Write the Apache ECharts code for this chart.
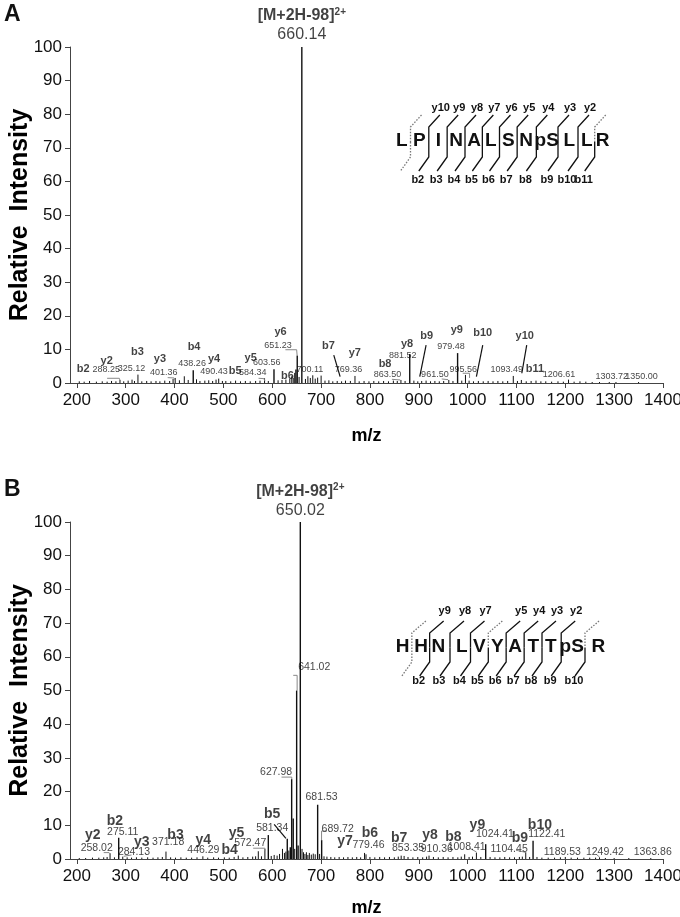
<!DOCTYPE html>
<html><head><meta charset="utf-8">
<script src="https://cdn.jsdelivr.net/npm/echarts@6/dist/echarts.min.js"></script>
<style>html,body{margin:0;padding:0;background:#fff}#c{width:680px;height:917px}</style>
</head><body><div id="c"></div>
<script>
// ---------------- DATA ----------------
const xTicks = [200,300,400,500,600,700,800,900,1000,1100,1200,1300,1400];
const yTicks = [0,10,20,30,40,50,60,70,80,90,100];

// Panel A spectrum peaks [m/z, relative intensity]
const peaksA = [[205,0.5],[215,0.4],[226,0.6],[240,0.4],[252,0.5],[262,0.4],[271,0.6],[280,0.5],[288.3,0.9],[296,0.5],[305,0.7],[313,1.0],[318,0.6],[325.1,2.5],[333,0.5],[343,0.6],[352,0.5],[362,0.6],[370,0.5],[380,0.7],[390,0.6],[397,1.2],[401.4,1.5],[410,0.8],[420,2.0],[428,0.9],[438.3,3.8],[445,1.1],[452,0.6],[462,0.7],[470,0.8],[478,0.6],[485,1.0],[490.4,1.3],[498,0.6],[505,0.6],[515,0.5],[525,0.7],[535,0.5],[545,0.6],[555,0.5],[566,0.6],[575,0.7],[584.3,1.4],[592,0.6],[603.6,4.1],[612,0.8],[620,0.9],[628,1.0],[636,1.3],[640,2.0],[643,1.5],[646,3.0],[648.5,4.0],[651.2,8.2],[655,1.8],[660.6,100],[668,1.2],[673,2.0],[678,1.5],[683,2.3],[688,1.3],[693,1.6],[700.1,2.2],[708,0.7],[716,0.8],[724,0.5],[733,0.6],[742,0.5],[750,0.7],[760,0.6],[769.4,2.1],[778,0.5],[788,0.6],[798,0.5],[808,0.6],[818,0.5],[828,0.6],[838,0.5],[848,0.7],[856,0.6],[863.5,0.9],[872,0.6],[881.5,8.6],[890,0.7],[898,0.5],[906,0.6],[915,0.7],[924,0.5],[933,0.6],[942,0.5],[951,0.6],[961.5,0.9],[970,0.6],[979.5,8.9],[988,0.7],[995.6,2.4],[1003,0.7],[1012,0.5],[1022,0.6],[1032,0.5],[1042,0.6],[1052,0.5],[1062,0.6],[1072,0.5],[1082,0.6],[1093.5,2.1],[1102,0.6],[1110,0.9],[1120,0.5],[1130,0.6],[1140,0.7],[1150,0.5],[1160,0.5],[1172,0.4],[1185,0.5],[1196,0.4],[1206.6,1.0],[1218,0.4],[1230,0.5],[1242,0.4],[1255,0.3],[1270,0.3],[1290,0.3],[1303.7,0.3],[1350,0.3]];

// Panel B spectrum peaks [m/z, relative intensity]
const peaksB = [[205,0.3],[218,0.3],[232,0.4],[245,0.4],[255,0.5],[262,0.6],[268,1.7],[277,0.5],[285.7,6.3],[294,0.7],[303,0.5],[312,0.4],[322,0.5],[333,0.4],[345,0.5],[356,0.4],[366,0.5],[375,0.6],[382.5,2.2],[392,0.5],[402,0.4],[413,0.5],[424,0.4],[435,0.4],[446,0.5],[458,0.8],[468,0.4],[480,0.5],[490,0.4],[502,0.5],[512,0.4],[522,0.6],[530.5,1.0],[540,0.5],[550,0.6],[560,0.7],[566,0.8],[571.5,2.3],[578,0.8],[585,3.0],[592,7.1],[598,0.9],[604,1.2],[610,1.0],[615,1.5],[621,3.0],[625,1.8],[628,2.2],[630.8,6.0],[634,2.5],[637,3.5],[639.8,23.7],[643,12],[646,3],[650,50],[653,4],[657.5,100],[661,3],[664,2],[667,1.5],[670,2],[673,1.2],[676,1.8],[680,1.3],[684,1.6],[688,1.4],[693,16.1],[697,1.5],[701.2,5.6],[706,0.8],[712,0.7],[720,0.6],[728,0.5],[737,0.6],[746,0.5],[755,0.6],[764,0.5],[773,0.6],[781,0.5],[789,1.8],[792,1.4],[800,0.6],[810,0.5],[820,0.6],[830,0.5],[840,0.6],[850,0.5],[858,0.7],[864,1.0],[870,0.9],[878,0.6],[888,0.5],[898,0.6],[908,0.5],[916,0.7],[921,1.0],[930,0.6],[940,0.5],[950,0.6],[960,0.5],[970,0.6],[980,0.5],[987,0.7],[994,1.4],[1003,0.6],[1010,0.7],[1018,1.9],[1027,0.6],[1037,4.4],[1046,0.6],[1056,0.5],[1066,0.5],[1076,0.6],[1086,0.5],[1096,0.5],[1106,0.6],[1112,0.7],[1119,2.0],[1127,0.6],[1134,5.4],[1142,0.6],[1152,0.4],[1165,0.4],[1178,0.4],[1190,0.5],[1200,0.6],[1212,0.4],[1225,0.4],[1238,0.4],[1250,0.4],[1262,0.4],[1270,0.5],[1282,0.3],[1300,0.3],[1330,0.3],[1375,0.3]];

// Peak annotations: [text, kind]  (kind: 'ion' bold fragment name, 'mz' value)
const annotA = [['b2','ion'],['y2','ion'],['288.25','mz'],['b3','ion'],['325.12','mz'],['y3','ion'],['401.36','mz'],['b4','ion'],['438.26','mz'],['y4','ion'],['490.43','mz'],['b5','ion'],['584.34','mz'],['y5','ion'],['603.56','mz'],['b6','ion'],['y6','ion'],['651.23','mz'],['700.11','mz'],['b7','ion'],['769.36','mz'],['y7','ion'],['y8','ion'],['881.52','mz'],['b8','ion'],['863.50','mz'],['b9','ion'],['961.50','mz'],['y9','ion'],['979.48','mz'],['b10','ion'],['995.56','mz'],['1093.49','mz'],['y10','ion'],['b11','ion'],['1206.61','mz'],['1303.72','mz'],['1350.00','mz']];
const annotB = [['y2','ion'],['258.02','mz'],['b2','ion'],['275.11','mz'],['y3','ion'],['284.13','mz'],['371.18','mz'],['b3','ion'],['y4','ion'],['446.29','mz'],['b4','ion'],['y5','ion'],['572.47','mz'],['b5','ion'],['581.34','mz'],['627.98','mz'],['641.02','mz'],['681.53','mz'],['689.72','mz'],['y7','ion'],['b6','ion'],['779.46','mz'],['b7','ion'],['853.35','mz'],['y8','ion'],['910.36','mz'],['b8','ion'],['1008.41','mz'],['y9','ion'],['1024.41','mz'],['b9','ion'],['1104.45','mz'],['b10','ion'],['1122.41','mz'],['1189.53','mz'],['1249.42','mz'],['1363.86','mz']];
const precursorA = '660.14', precursorB = '650.02', precursorName = '[M+2H-98]';

// Peptide sequences and observed fragments
const seqA = ['L','P','I','N','A','L','S','N','pS','L','L','R'];
const seqB = ['H','H','N','L','V','Y','A','T','T','pS','R'];
// for each cleavage k (1..n-1): [b observed, y observed]
const obsA = [[0,0],[1,1],[1,1],[1,1],[1,1],[1,1],[1,1],[1,1],[1,1],[1,1],[1,0]];
const obsB = [[0,0],[1,1],[1,1],[1,1],[1,0],[1,1],[1,1],[1,1],[1,1],[1,0]];

// ---------------- LAYOUT ----------------
const annotPosA = [[213,4.1],[261,6.6],[260,3.9],[324,9.3],[312,4.2],[370,7.1],[378,3.2],[440,10.8],[436,5.9],[481,7.05],[481,3.4],[524,3.7],[560,3.1],[556,7.35],[589,6.0],[631,2.1],[617,15.3],[612,11.1],[677,4.1],[715,11.0],[756,4.1],[769,8.8],[876,11.6],[867,8.3],[831,5.65],[836,2.4],[916,14.0],[933,2.4],[978,15.8],[966,11.0],[1031,15.0],[991,4.1],[1080,4.1],[1117,14.0],[1138,4.1],[1187,2.6],[1295,1.9],[1356,1.9]];
const annotPosB = [[232.5,7.1],[240.7,3.35],[278,11.1],[294,7.9],[333,5.1],[317,2.0],[387,5.0],[402,7.1],[459,5.6],[459,2.5],[513,2.5],[527,7.8],[555,4.75],[600,13.3],[600,9.3],[608,25.9],[686,57],[701,18.5],[734,8.75],[749,5.3],[800,7.6],[797,4.0],[860,6.3],[878,3.2],[923,7.1],[937,2.9],[971,6.6],[998,3.65],[1020,10.1],[1056,7.3],[1107,6.1],[1085,2.9],[1148,10.1],[1162,7.3],[1194,2.0],[1281,2.0],[1379,2.0]];
const leadA = [
  [[[262,1.4],[287,1.4],[289,0.5]],'g'],
  [[[386,1.6],[399,1.5],[401,0.8]],'g'],
  [[[572,1.4],[583,1.3],[585,0.6]],'g'],
  [[[627,9.9],[650,9.9],[651,8.2]],'g'],
  [[[845,1.1],[862,0.9]],'g'],
  [[[947,1.2],[960,1.0]],'g'],
  [[[990,2.9],[1004,2.9],[1004,1.5]],'g'],
  [[[726,8.3],[739,1.9]],'k'],
  [[[915,11.3],[902,1.9]],'k'],
  [[[1031,11.3],[1018,1.9]],'k'],
  [[[1121,11.3],[1111,2.9]],'k']
];
const leadB = [
  [[[255,1.9],[266,1.9],[268,1.5]],'g'],
  [[[296,0.8],[312,1.2]],'g'],
  [[[561,3.2],[585,3.2],[585,2.4]],'g'],
  [[[604,10.3],[628,6.1]],'k'],
  [[[619,24.3],[640,24.3],[640,23.7]],'g'],
  [[[643,54.5],[651,54.5],[651,50]],'g'],
  [[[712,8.3],[701,8.3],[701,5.6]],'g'],
  [[[1004,3.2],[1018,2.1]],'g'],
  [[[1099,2.6],[1118,2.0]],'g'],
  [[[1264,1.3],[1270,0.6]],'g']
];

const FONT = '"Liberation Sans", Arial, sans-serif';
const chart = echarts.init(document.getElementById('c'), null, {renderer:'canvas'});

function xAxisCfg(gi, gap){
  return {type:'value', gridIndex:gi, min:186, max:1400,
    name:'m/z', nameLocation:'middle', nameGap:gap, nameMoveOverlap:false,
    nameTextStyle:{fontFamily:FONT, fontSize:18, fontWeight:'bold', color:'#000'},
    axisLine:{lineStyle:{color:'#444', width:1}},
    axisTick:{customValues:xTicks, length:5, lineStyle:{color:'#444'}},
    axisLabel:{customValues:xTicks, margin:9, fontFamily:FONT, fontSize:17, color:'#111',
      formatter:function(v){return String(v);}},
    splitLine:{show:false}};
}
function yAxisCfg(gi){
  return {type:'value', gridIndex:gi, min:0, max:100, interval:10,
    name:'Relative  Intensity', nameLocation:'middle', nameGap:37, nameRotate:90, nameMoveOverlap:false,
    nameTextStyle:{fontFamily:FONT, fontSize:25, fontWeight:'bold', color:'#000'},
    axisLine:{show:true, lineStyle:{color:'#444', width:1}},
    axisTick:{show:true, length:5, lineStyle:{color:'#444'}},
    axisLabel:{margin:8, fontFamily:FONT, fontSize:17, color:'#111'},
    splitLine:{show:false}};
}
function stickSeries(data, gi){
  return {type:'custom', xAxisIndex:gi, yAxisIndex:gi, data:data, silent:true, animation:false,
    encode:{x:0, y:1},
    renderItem:function(params, api){
      const x = api.value(0), y = api.value(1);
      const p0 = api.coord([x,0]), p1 = api.coord([x,y]);
      return {type:'line', shape:{x1:p0[0], y1:p0[1], x2:p1[0], y2:p1[1]},
        style:{stroke:'#111', lineWidth: y > 3 ? 1.4 : 1}};
    }};
}
function leaderSeries(list, gi){
  return {type:'custom', xAxisIndex:gi, yAxisIndex:gi, silent:true, animation:false, clip:false,
    data:list.map((l,i)=>[l[0][0][0], l[0][0][1], i]),
    renderItem:function(params, api){
      const l = list[params.dataIndex];
      const pts = l[0].map(p=>api.coord(p));
      return {type:'polyline', shape:{points:pts},
        style:{stroke: l[1]==='k' ? '#111' : '#888', lineWidth: l[1]==='k' ? 1.2 : 1, fill:null}};
    }};
}
function labelSeries(annot, pos, gi, ionSize, mzSize){
  return {type:'scatter', xAxisIndex:gi, yAxisIndex:gi, silent:true, animation:false, clip:false,
    symbolSize:1, itemStyle:{color:'rgba(0,0,0,0)'},
    data: annot.map((a,i)=>({value:pos[i], label:{show:true, position:'inside', formatter:a[0],
      fontFamily:FONT, color:'#111',
      fontSize: a[1]==='ion' ? ionSize : mzSize,
      fontWeight: a[1]==='ion' ? 'bold' : 'normal'}}))};
}
function precursorSeries(val, mz, gi, yt, yv){
  return {type:'scatter', xAxisIndex:gi, yAxisIndex:gi, silent:true, animation:false, clip:false,
    symbolSize:1, itemStyle:{color:'rgba(0,0,0,0)'},
    data:[
      {value:[mz,yt], label:{show:true, position:'inside', formatter:'{a|'+precursorName+'}{s|2+}',
        rich:{a:{fontFamily:FONT, fontSize:16, fontWeight:'bold', color:'#111', lineHeight:18},
              s:{fontFamily:FONT, fontSize:10, fontWeight:'bold', color:'#111', verticalAlign:'top', lineHeight:18, padding:[0,0,8,0]}}}},
      {value:[mz,yv], label:{show:true, position:'inside', formatter:val,
        fontFamily:FONT, fontSize:16, color:'#111'}}
    ]};
}

function seqGraphic(seq, obs, centers, cy, top, bot, yOff, bOff, labY, labB){
  const g = [];
  seq.forEach((r,i)=>g.push({type:'text', x:centers[i], y:cy,
    style:{text:r, fontFamily:FONT, fontSize:19, fontWeight:'bold', fill:'#111', align:'center', verticalAlign:'middle'}}));
  const n = seq.length;
  for (let k=1; k<n; k++){
    const xb = (centers[k-1]+centers[k])/2;
    const [bo, yo] = obs[k-1];
    const mid = (top+bot)/2;
    const solid = {stroke:'#111', lineWidth:1.3, fill:null};
    const dot = {stroke:'#777', lineWidth:1.3, lineDash:[1.5,1.5], fill:null};
    g.push({type:'polyline', shape:{points:[[xb+yOff, top-12],[xb, top],[xb, mid]]}, style: yo ? solid : dot});
    g.push({type:'polyline', shape:{points:[[xb, mid],[xb, bot],[xb-bOff, bot+14]]}, style: bo ? solid : dot});
    if (yo) g.push({type:'text', x:xb+yOff+1, y:labY, style:{text:'y'+(n-k), fontFamily:FONT, fontSize:11, fontWeight:'bold', fill:'#111', align:'center', verticalAlign:'middle'}});
    if (bo) g.push({type:'text', x:xb-bOff-1, y:labB, style:{text:'b'+k, fontFamily:FONT, fontSize:11, fontWeight:'bold', fill:'#111', align:'center', verticalAlign:'middle'}});
  }
  return g;
}
const centersA = [401.7,419.3,438.3,456,474,490.7,508.3,526,546.7,569.3,586.7,602.7];
const centersB = [402.7,421,438.3,461.7,479.3,497.3,515,533.3,550.7,571.7,598.3];

const graphics = [
  {type:'text', x:4, y:3, style:{text:'A', fontFamily:FONT, fontSize:23, fontWeight:'bold', fill:'#111'}},
  {type:'text', x:4, y:478, style:{text:'B', fontFamily:FONT, fontSize:23, fontWeight:'bold', fill:'#111'}}
].concat(seqGraphic(seqA, obsA, centersA, 141, 127, 157, 11, 10, 108, 180))
 .concat(seqGraphic(seqB, obsB, centersB, 647, 633, 662, 14, 10, 611, 681));

chart.setOption({
  animation:false,
  backgroundColor:'#fff',
  grid:[{left:70, right:17, top:47, height:336, containLabel:false, outerBoundsMode:'none'},
        {left:70, right:17, top:522, height:337, containLabel:false, outerBoundsMode:'none'}],
  xAxis:[xAxisCfg(0, 44), xAxisCfg(1, 40)],
  yAxis:[yAxisCfg(0), yAxisCfg(1)],
  series:[
    stickSeries(peaksA,0), stickSeries(peaksB,1),
    leaderSeries(leadA,0), leaderSeries(leadB,1),
    labelSeries(annotA, annotPosA, 0, 11, 9),
    labelSeries(annotB, annotPosB, 1, 14, 10.5),
    precursorSeries(precursorA, 660.6, 0, 109.3, 103.6),
    precursorSeries(precursorB, 657.5, 1, 109.0, 103.3)
  ],
  graphic: graphics
});
</script></body></html>
